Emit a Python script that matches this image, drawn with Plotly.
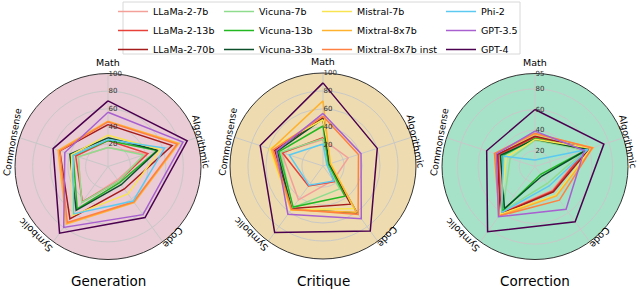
import math
import plotly.graph_objects as go

# ---------------- data ----------------
dimensions = ["Math", "Algorithmic", "Code", "Symbolic", "Commonsense"]

models = ["LLaMa-2-7b", "LLaMa-2-13b", "LLaMa-2-70b",
          "Vicuna-7b", "Vicuna-13b", "Vicuna-33b",
          "Mistral-7b", "Mixtral-8x7b", "Mixtral-8x7b inst",
          "Phi-2", "GPT-3.5", "GPT-4"]

# values per model: Math, Algorithmic, Code, Symbolic, Commonsense
generation = [
    [16, 40, 13, 45, 30],
    [24, 42, 15, 44, 33],
    [42, 71, 26, 68, 52],
    [16, 37, 15, 45, 30],
    [24, 53, 17, 54, 36],
    [27, 54, 20, 56, 40],
    [30, 57, 33, 63, 38],
    [46, 79, 45, 75, 54],
    [45, 77, 44, 73, 52],
    [25, 62, 43, 61, 36],
    [56, 84, 62, 80, 46],
    [69, 89, 66, 88, 60],
]

critique = [
    [26, 26, 16, 43, 45],
    [28, 2, 18, 24, 44],
    [50, 3, 49, 55, 53],
    [27, 2, 28, 54, 46],
    [41, 3, 38, 53, 48],
    [49, 4, 61, 56, 50],
    [48, 6, 55, 57, 59],
    [69, 5, 60, 57, 57],
    [52, 38, 63, 56, 55],
    [21, 1, 17, 23, 36],
    [55, 41, 69, 63, 51],
    [89, 60, 86, 88, 70],
]

correction = [
    [32, 55, 33, 60, 41],
    [33, 57, 34, 61, 42],
    [34, 60, 35, 62, 43],
    [30, 56, 25, 58, 30],
    [32, 58, 14, 58, 38],
    [31, 58, 16, 55, 40],
    [31, 62, 39, 62, 34],
    [36, 64, 40, 64, 45],
    [37, 63, 45, 64, 46],
    [11, 59, 28, 60, 37],
    [39, 55, 56, 65, 44],
    [60, 75, 71, 83, 54],
]

panel_titles = ["Generation", "Critique", "Correction"]
panel_data = [generation, critique, correction]
radial_ticks = [[20, 40, 60, 80, 100], [20, 40, 60, 80, 100], [20, 40, 60, 80, 95]]

# ---------------- styles ----------------
colors = ["#f4a09a", "#e8413a", "#a51a1a",
          "#8fdc8f", "#22b822", "#0b4f2a",
          "#f8e450", "#ffb22e", "#ff8040",
          "#5ccaf0", "#a860d0", "#4c0050"]
legend_of = ["legend"] * 3 + ["legend2"] * 3 + ["legend3"] * 3 + ["legend4"] * 3
bg_colors = ["#e9ccd5", "#eedcb0", "#a6e2c8"]
radial_ranges = [[-5.5, 100], [-3.5, 100], [4.6, 95]]

W, H = 640, 290
FONT = "DejaVu Sans"


def px(X):
    return X / W


def py(Y):
    return 1 - Y / H


centers = [(108, 166.5), (323, 166), (535, 166.5)]   # pixels
R = 93

fig = go.Figure()

for p, data in enumerate(panel_data):
    sub = "polar" if p == 0 else f"polar{p + 1}"
    for i, name in enumerate(models):
        vals = data[i] + [data[i][0]]
        fig.add_trace(go.Scatterpolar(
            r=vals,
            theta=dimensions + [dimensions[0]],
            mode="lines",
            name=name,
            line=dict(color=colors[i], width=1.5),
            subplot=sub,
            showlegend=(p == 0),
            legend=legend_of[i],
        ))

layout = dict(
    width=W, height=H,
    margin=dict(l=0, r=0, t=0, b=0, autoexpand=False),
    paper_bgcolor="white",
    font=dict(family=FONT, color="#000"),
    annotations=[],
    shapes=[],
)

# label offsets from each panel centre (px) and clockwise text rotation
label_off = [(0, -104), (93, -25), (65, 71), (-72, 69), (-96, -24)]
label_tilt = [0, 78, 132, -135, -80]
label_size = [9.5, 9.5, 9.5, 9.5, 9.3]

for p in range(3):
    cx, cy = centers[p]
    key = "polar" if p == 0 else f"polar{p + 1}"
    layout[key] = dict(
        domain=dict(x=[px(cx - R), px(cx + R)],
                    y=[py(cy + R), py(cy - R)]),
        bgcolor=bg_colors[p],
        radialaxis=dict(
            range=radial_ranges[p],
            tickvals=radial_ticks[p],
            ticktext=[str(t) for t in radial_ticks[p]],
            angle=90,
            tickangle=90,
            showline=False,
            ticks="",
            gridcolor="#c8c8c8",
            gridwidth=1,
            tickfont=dict(size=7, color="#333", family=FONT),
        ),
        angularaxis=dict(
            direction="clockwise",
            rotation=90,
            showticklabels=False,
            ticks="",
            gridcolor="#c8c8c8",
            gridwidth=1,
            showline=True,
            linecolor="#333",
            linewidth=1,
        ),
    )
    for k, lab in enumerate(dimensions):
        x = cx + label_off[k][0]
        y = cy + label_off[k][1]
        layout["annotations"].append(dict(
            x=px(x), y=py(y), xref="paper", yref="paper",
            text=lab, showarrow=False, textangle=label_tilt[k],
            xanchor="center", yanchor="middle",
            font=dict(size=label_size[k], family=FONT, color="#000"),
        ))
    layout["annotations"].append(dict(
        x=px(cx), y=py(281), xref="paper", yref="paper",
        text=panel_titles[p], showarrow=False,
        xanchor="center", yanchor="middle",
        font=dict(size=13.5, family=FONT, color="#000"),
    ))

legend_x = [113, 219, 317, 441]   # pixels
for j, lx in enumerate(legend_x):
    key = "legend" if j == 0 else f"legend{j + 1}"
    layout[key] = dict(
        x=px(lx), y=py(-3), xanchor="left", yanchor="top",
        xref="paper", yref="paper",
        bgcolor="rgba(0,0,0,0)", borderwidth=0,
        font=dict(size=9.5, family=FONT, color="#000"),
        tracegroupgap=0, itemwidth=30,
    )

layout["shapes"].append(dict(
    type="rect", xref="paper", yref="paper",
    x0=px(123), x1=px(520), y0=py(2), y1=py(54),
    line=dict(color="#d8d8d8", width=1), fillcolor="rgba(0,0,0,0)",
))

fig.update_layout(**layout)
fig.write_html(
    "out.html",
    config={"displayModeBar": False},
    post_script="document.body.style.margin='0';document.body.style.overflow='hidden';",
)
